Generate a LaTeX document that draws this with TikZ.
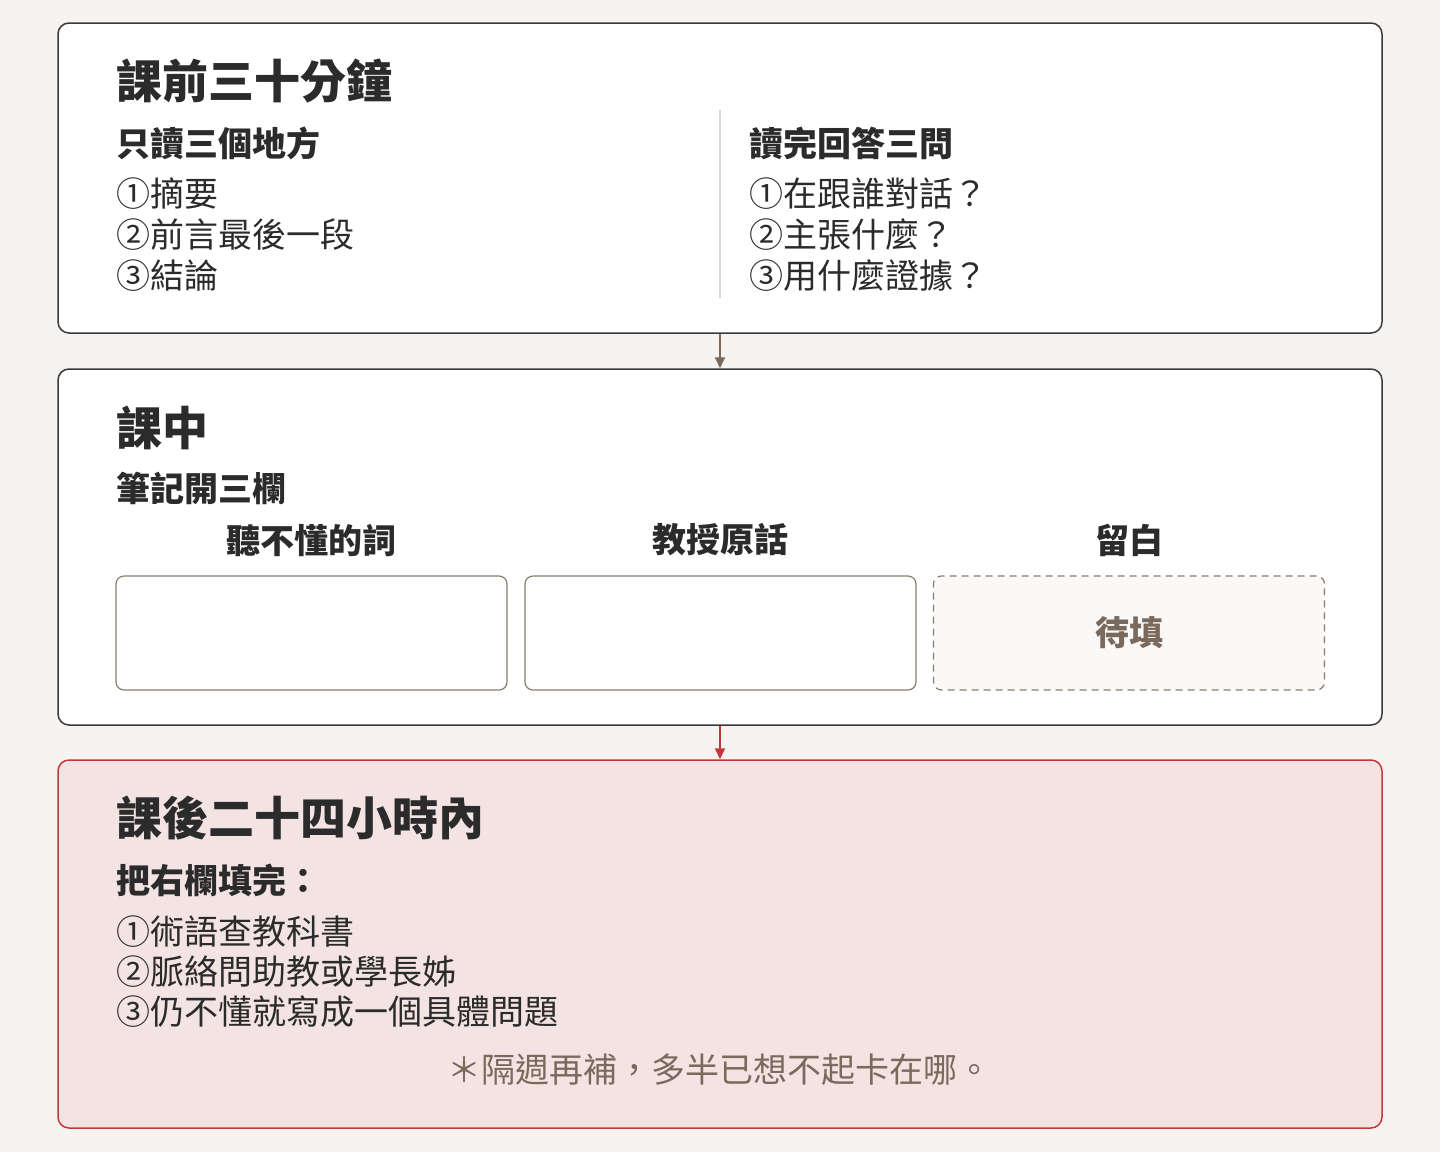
\documentclass[tikz,border=0pt]{standalone}
\usepackage{fontspec}
\setmainfont{Noto Sans CJK TC}
\usetikzlibrary{arrows.meta}
\definecolor{bg}{HTML}{F7F3F0}
\definecolor{ink}{HTML}{2B2B2B}
\definecolor{frame}{HTML}{3A3A3A}
\definecolor{brown}{HTML}{7A6A5E}
\definecolor{subframe}{HTML}{8A7D70}
\definecolor{redc}{HTML}{C0393B}
\definecolor{pinkfill}{HTML}{F3E3E3}
\definecolor{divc}{HTML}{DDD8D3}
\definecolor{pendfill}{HTML}{FAF9F8}
\tikzset{
  panel/.style={draw=frame, line width=1.5pt, fill=white, rounded corners=11pt, inner sep=0pt},
  redpanel/.style={draw=redc, line width=1.5pt, fill=pinkfill, rounded corners=11pt, inner sep=0pt},
  cell/.style={draw=subframe, line width=1.2pt, fill=white, rounded corners=8pt, minimum width=391pt, minimum height=114pt, inner sep=0pt},
  pendcell/.style={draw=subframe, line width=1.2pt, dashed, dash pattern=on 7pt off 5pt, fill=pendfill, rounded corners=8pt, minimum width=391pt, minimum height=114pt, inner sep=0pt, text=brown, font=\fontsize{34}{40}\selectfont\bfseries},
  title/.style={anchor=west, inner sep=0pt, text=ink, font=\fontsize{46}{52}\selectfont\bfseries},
  sub/.style={anchor=west, inner sep=0pt, text=ink, font=\fontsize{34}{40}\selectfont\bfseries},
  item/.style={anchor=west, inner sep=0pt, text=ink, font=\fontsize{34}{40}\selectfont},
  colhead/.style={inner sep=0pt, text=ink, font=\fontsize{34}{40}\selectfont\bfseries},
  note/.style={inner sep=0pt, text=brown, font=\fontsize{34}{40}\selectfont},
  flow/.style={line width=2pt, -{Triangle[length=11pt,width=10pt]}}
}
\begin{document}
\begin{tikzpicture}[x=1pt,y=-1pt]
\useasboundingbox (0,0) rectangle (1440,1152);
\fill[bg] (0,0) rectangle (1440,1152);

% Box 1
\node[panel, minimum width=1324pt, minimum height=310pt] (box1) at (720,178) {};
\node[title] (t1) at (116,81) {課前三十分鐘};
\node[sub] (s1l) at (116,143) {只讀三個地方};
\node[item] (i1a) at (116,194) {①摘要};
\node[item] (i1b) at (116,235) {②前言最後一段};
\node[item] (i1c) at (116,276) {③結論};
\coordinate (dtop) at (720,110);
\coordinate (dbot) at (720,298);
\draw[divc, line width=1.5pt] (dtop) -- (dbot);
\node[sub] (s1r) at (749,143) {讀完回答三問};
\node[item] (i1d) at (749,194) {①在跟誰對話？};
\node[item] (i1e) at (749,235) {②主張什麼？};
\node[item] (i1f) at (749,276) {③用什麼證據？};

% Box 2
\node[panel, minimum width=1324pt, minimum height=356pt] (box2) at (720,547) {};
\node[title] (t2) at (116,428) {課中};
\node[sub] (s2) at (116,488) {筆記開三欄};
\node[colhead] (h1) at (311.5,540) {聽不懂的詞};
\node[colhead] (h2) at (720.5,540) {教授原話};
\node[colhead] (h3) at (1129,540) {留白};
\node[cell] (c1) at (311.5,633) {};
\node[cell] (c2) at (720.5,633) {};
\node[pendcell] (c3) at (1129,633) {待填};

% Box 3
\node[redpanel, minimum width=1324pt, minimum height=368pt] (box3) at (720,944) {};
\node[title] (t3) at (116,818) {課後二十四小時內};
\node[sub] (s3) at (116,880) {把右欄填完：};
\node[item] (i3a) at (116,932) {①術語查教科書};
\node[item] (i3b) at (116,972) {②脈絡問助教或學長姊};
\node[item] (i3c) at (116,1012) {③仍不懂就寫成一個具體問題};
\node[note] (n3) at (719,1070) {＊隔週再補，多半已想不起卡在哪。};

% Connectors
\draw[flow, brown] (box1.south) -- (box2.north);
\draw[flow, redc] (box2.south) -- (box3.north);
\end{tikzpicture}
\end{document}
